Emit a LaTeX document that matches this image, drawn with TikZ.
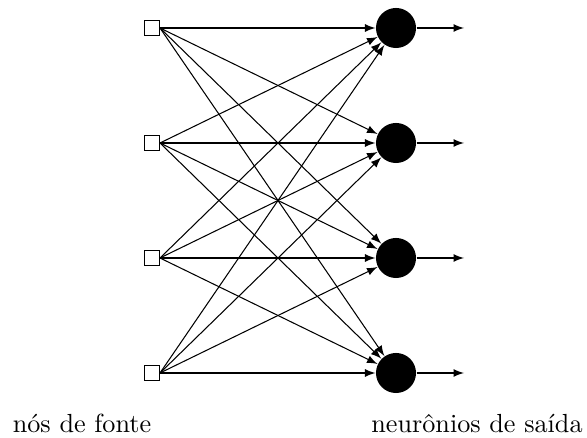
\documentclass[tikz,border=0pt]{standalone}
\usepackage{tikz}
\usetikzlibrary{positioning,shapes,arrows}

\begin{document}
\begin{tikzpicture}[x=0.382pt,y=-0.382pt]
    \useasboundingbox (0,0) rectangle (587,438);
    \node[rectangle, draw, fill=white, minimum size=5.7pt, inner sep=0pt] (s1) at (152,28)  {};
    \node[rectangle, draw, fill=white, minimum size=5.7pt, inner sep=0pt] (s2) at (152,143) {};
    \node[rectangle, draw, fill=white, minimum size=5.7pt, inner sep=0pt] (s3) at (152,258) {};
    \node[rectangle, draw, fill=white, minimum size=5.7pt, inner sep=0pt] (s4) at (152,373) {};
    \node[circle, fill=black, minimum size=15.3pt, inner sep=0pt] (n1) at (396,28)  {};
    \node[circle, fill=black, minimum size=15.3pt, inner sep=0pt] (n2) at (396,143) {};
    \node[circle, fill=black, minimum size=15.3pt, inner sep=0pt] (n3) at (396,258) {};
    \node[circle, fill=black, minimum size=15.3pt, inner sep=0pt] (n4) at (396,373) {};
    \coordinate (o1) at (464,28);
    \coordinate (o2) at (464,143);
    \coordinate (o3) at (464,258);
    \coordinate (o4) at (464,373);
    % todas as ligacoes
    \foreach \i in {1,...,4}
      \foreach \j in {1,...,4}
        \draw[-latex] (s\i.east) -- (n\j);
    \foreach \j in {1,...,4}
      \draw[-latex] (n\j) -- (o\j);
    \node[anchor=base] (fonte) at (82,433) {n\'os de fonte};
    \node[anchor=base] (saida) at (477,433) {neur\^onios de sa\'ida};
  \end{tikzpicture}
\end{document}
